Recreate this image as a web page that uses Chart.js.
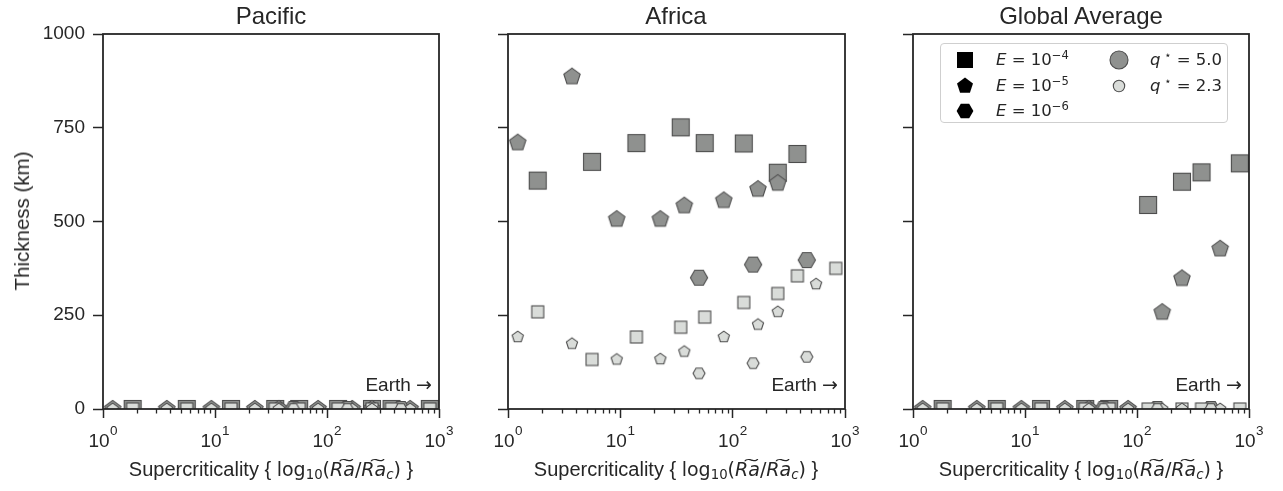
<!DOCTYPE html>
<html><head><meta charset="utf-8">
<script src="https://cdn.jsdelivr.net/npm/chart.js@4.4.1/dist/chart.umd.min.js"></script>
<style>
body{margin:0;background:#fff;width:1283px;height:491px;overflow:hidden;position:relative;font-family:"Liberation Sans",Arial,sans-serif;color:#262626}
canvas.plot{position:absolute;left:0;top:0}
.ptitle{position:absolute;top:0;height:32px;line-height:32px;font-size:24px;white-space:nowrap;transform:translateX(-50%)}
.xtitle{position:absolute;top:456px;height:26px;line-height:26px;font-size:20px;white-space:nowrap;transform:translateX(-50%)}
.xtitle .m{font-family:"DejaVu Sans",sans-serif;font-size:19px}
.xtitle sub{font-size:0.7em;vertical-align:-0.25em;line-height:0}
.ytitle{position:absolute;left:22px;top:221px;font-size:20.5px;white-space:nowrap;transform:translate(-50%,-50%) rotate(-90deg)}
#legend{position:absolute;left:940px;top:43px;width:286px;height:78px;border:1px solid #cfcfcf;border-radius:4px;background:rgba(255,255,255,0.85);font-family:"DejaVu Sans",sans-serif;font-size:16.5px;color:#262626}
#legend .mk{position:absolute;transform:translate(-50%,-50%)}
#legend .tx{position:absolute;height:24px;line-height:24px;transform:translateY(-50%);white-space:nowrap}
#legend .sp{font-size:0.7em;position:relative;top:-0.5em}
</style></head><body>
<canvas class="plot" id="c0" width="1283" height="491"></canvas>
<canvas class="plot" id="c1" width="1283" height="491"></canvas>
<canvas class="plot" id="c2" width="1283" height="491"></canvas>
<div class="ptitle" style="left:271px">Pacific</div>
<div class="ptitle" style="left:676px">Africa</div>
<div class="ptitle" style="left:1081px">Global Average</div>
<div class="ytitle">Thickness (km)</div>
<div class="xtitle" style="left:271px">Supercriticality { <span class="m">log<sub>10</sub>(<i>R&#x360;a</i>/<i>R&#x360;a</i><sub><i>c</i></sub>)</span> }</div>
<div class="xtitle" style="left:676px">Supercriticality { <span class="m">log<sub>10</sub>(<i>R&#x360;a</i>/<i>R&#x360;a</i><sub><i>c</i></sub>)</span> }</div>
<div class="xtitle" style="left:1081px">Supercriticality { <span class="m">log<sub>10</sub>(<i>R&#x360;a</i>/<i>R&#x360;a</i><sub><i>c</i></sub>)</span> }</div>
<div id="legend"></div>
<script>
// ---- data ----
const regions = ['Pacific', 'Africa', 'Global Average'];
const xSquare   = [1.84, 5.6, 13.9, 34.5, 56.4, 125.6, 252, 377, 828];   // E = 1e-4
const xPentagon = [1.22, 3.71, 9.29, 22.7, 37.1, 83.3, 168, 252, 553];  // E = 1e-5
const xHexagon  = [50.2, 152, 457];                                     // E = 1e-6

// Pacific thickness (km)
const pacSquareQ5  = [0, 0, 0, 0, 0, 0, 0, 0, 0];
const pacSquareQ23 = [0, 0, 0, 0, 0, 0, 0, 0, 0];
const pacPentQ5    = [0, 0, 0, 0, 0, 0, 0, 0, 0];
const pacPentQ23   = [0, 0, 0, 0, 0, 0, 0, 0, 0];
const pacHexQ5     = [0, 0, 0];
const pacHexQ23    = [0, 0, 0];
// Africa thickness (km)
const afrSquareQ5  = [609, 659, 709, 751, 709, 708, 630, 680, null];
const afrSquareQ23 = [259, 132, 192, 218, 245, 284, 308, 355, 375];
const afrPentQ5    = [710, 886, 506, 506, 542, 556, 586, 602, null];
const afrPentQ23   = [192, 174, 132, 133, 153, 192, 225, 259, 333];
const afrHexQ5     = [350, 385, 397];
const afrHexQ23    = [95, 122, 139];
// Global average thickness (km)
const gloSquareQ5  = [0, 0, 0, 0, 0, 544, 606, 631, 655];
const gloSquareQ23 = [0, 0, 0, 0, 0, 0, 0, 0, 0];
const gloPentQ5    = [0, 0, 0, 0, 0, 0, 258, 348, 427];
const gloPentQ23   = [0, 0, 0, 0, 0, 0, 0, 0, 0];
const gloHexQ5     = [0, 0, 0];
const gloHexQ23    = [0, 0, 0];

const yTicks = [0, 250, 500, 750, 1000];
const xMajor = [1, 10, 100, 1000];
const xTickBase = ['10', '10', '10', '10'];
const xTickExp = ['0', '1', '2', '3'];
const annotationWord = 'Earth';
const annotationArrow = '\u2192';

// ---- styles ----
const INK = '#262626';
const FONT = '"Liberation Sans", Arial, sans-serif';
const darkFill = '#8f918f', lightFill = '#d9dcd9', edge = '#4d4d4d';

function polyMarker(n, r, rot, fill, stroke, lw) {
  const s = 2 * Math.ceil(r + lw + 1);
  const c = document.createElement('canvas'); c.width = s; c.height = s;
  const g = c.getContext('2d');
  g.beginPath();
  for (let k = 0; k < n; k++) {
    const a = rot + k * 2 * Math.PI / n;
    const px = s / 2 + r * Math.cos(a), py = s / 2 + r * Math.sin(a);
    if (k) g.lineTo(px, py); else g.moveTo(px, py);
  }
  g.closePath(); g.fillStyle = fill; g.fill();
  if (lw > 0) { g.lineWidth = lw; g.strokeStyle = stroke; g.stroke(); }
  return c;
}
function squareMarker(side, fill, stroke, lw) {
  const s = 2 * Math.ceil(side / 2 + lw + 1);
  const c = document.createElement('canvas'); c.width = s; c.height = s;
  const g = c.getContext('2d');
  g.fillStyle = fill; g.fillRect(s / 2 - side / 2, s / 2 - side / 2, side, side);
  if (lw > 0) { g.lineWidth = lw; g.strokeStyle = stroke; g.strokeRect(s / 2 - side / 2, s / 2 - side / 2, side, side); }
  return c;
}
function circleMarker(r, fill, stroke, lw) {
  const s = 2 * Math.ceil(r + lw + 1);
  const c = document.createElement('canvas'); c.width = s; c.height = s;
  const g = c.getContext('2d');
  g.beginPath(); g.arc(s / 2, s / 2, r, 0, Math.PI * 2);
  g.fillStyle = fill; g.fill(); g.lineWidth = lw; g.strokeStyle = stroke; g.stroke();
  return c;
}

const mk = {
  sqQ5: squareMarker(17, darkFill, edge, 1.1),
  sqQ23: squareMarker(12, lightFill, edge, 1.1),
  peQ5: polyMarker(5, 8.6, -Math.PI / 2, darkFill, edge, 1.1),
  peQ23: polyMarker(5, 5.9, -Math.PI / 2, lightFill, edge, 1.1),
  hxQ5: polyMarker(6, 8.6, 0, darkFill, edge, 1.1),
  hxQ23: polyMarker(6, 6.0, 0, lightFill, edge, 1.1)
};

const isMajor = v => Math.abs(Math.log10(v) - Math.round(Math.log10(v))) < 1e-9;
const xTickValues = [1, 10, 100].flatMap(d => [1, 2, 3, 4, 5, 6, 7, 8, 9].map(m => m * d)).concat([1000]);

const pts = (xs, ys) => xs.map((x, i) => ({ x: x, y: ys[i] })).filter(p => p.y !== null);

const regionData = [
  [pacSquareQ5, pacPentQ5, pacHexQ5, pacSquareQ23, pacPentQ23, pacHexQ23],
  [afrSquareQ5, afrPentQ5, afrHexQ5, afrSquareQ23, afrPentQ23, afrHexQ23],
  [gloSquareQ5, gloPentQ5, gloHexQ5, gloSquareQ23, gloPentQ23, gloHexQ23]
];
const seriesX = [xSquare, xPentagon, xHexagon, xSquare, xPentagon, xHexagon];
const seriesMk = [mk.sqQ5, mk.peQ5, mk.hxQ5, mk.sqQ23, mk.peQ23, mk.hxQ23];
const seriesNames = ['E=1e-4, q*=5.0', 'E=1e-5, q*=5.0', 'E=1e-6, q*=5.0', 'E=1e-4, q*=2.3', 'E=1e-5, q*=2.3', 'E=1e-6, q*=2.3'];

const framePlugin = {
  id: 'frame',
  afterDatasetsDraw(chart) {
    const { ctx, chartArea: a } = chart;
    ctx.save();
    ctx.strokeStyle = INK; ctx.lineWidth = 1.8;
    ctx.strokeRect(a.left, a.top, a.right - a.left, a.bottom - a.top);
    const xs = chart.scales.x;
    // minor ticks (shorter)
    ctx.lineWidth = 1.3;
    xs.ticks.forEach(t => {
      if (!isMajor(t.value)) {
        const px = Math.round(xs.getPixelForValue(t.value)) + 0.5;
        ctx.beginPath(); ctx.moveTo(px, a.bottom); ctx.lineTo(px, a.bottom + 4.5); ctx.stroke();
      }
    });
    // major tick labels 10^n
    ctx.fillStyle = INK; ctx.textAlign = 'left'; ctx.textBaseline = 'alphabetic';
    xMajor.forEach((v, i) => {
      const px = xs.getPixelForValue(v);
      ctx.font = '19px ' + FONT; const wb = ctx.measureText(xTickBase[i]).width;
      ctx.font = '13.5px ' + FONT; const we = ctx.measureText(xTickExp[i]).width;
      const x0 = px - (wb + we + 0.5) / 2;
      ctx.font = '19px ' + FONT; ctx.fillText(xTickBase[i], x0, a.bottom + 37.5);
      ctx.font = '13.5px ' + FONT; ctx.fillText(xTickExp[i], x0 + wb + 0.5, a.bottom + 26);
    });
    // "Earth ->" annotation
    ctx.font = '19px ' + FONT; const ww = ctx.measureText(annotationWord + ' ').width;
    ctx.font = '19px "DejaVu Sans", sans-serif'; const wa = ctx.measureText(annotationArrow).width;
    const xr = a.right - 7, yb = a.bottom - 18;
    ctx.font = '19px ' + FONT; ctx.fillText(annotationWord, xr - wa - ww, yb);
    ctx.font = '19px "DejaVu Sans", sans-serif'; ctx.fillText(annotationArrow, xr - wa, yb);
    ctx.restore();
  }
};

// panel geometry (plot-area edges)
const panels = [
  { left: 103, right: 439, yw: 100, labels: true },
  { left: 508, right: 845, yw: 12, labels: false },
  { left: 913, right: 1249, yw: 12, labels: false }
];
const W = 1283, H = 491, TOP = 34, XH = 40, BOTTOM = 409;

panels.forEach((p, pi) => {
  const data = regionData[pi];
  const datasets = data.map((ys, si) => ({
    label: regions[pi] + ' ' + seriesNames[si],
    data: pts(seriesX[si], ys),
    pointStyle: seriesMk[si],
    pointRadius: 9,
    order: data.length - si
  }));
  new Chart(document.getElementById('c' + pi), {
    type: 'scatter',
    data: { datasets },
    plugins: [framePlugin],
    options: {
      responsive: false, animation: false, events: [],
      layout: { autoPadding: false, padding: { left: p.left - p.yw, right: W - p.right, top: TOP, bottom: H - BOTTOM - XH } },
      plugins: { legend: { display: false }, tooltip: { enabled: false }, title: { display: false } },
      scales: {
        x: {
          type: 'logarithmic', min: 1, max: 1000,
          afterFit: s => { s.height = XH; },
          afterBuildTicks: s => { s.ticks = xTickValues.map(v => ({ value: v, major: isMajor(v) })); },
          border: { display: false },
          grid: { display: true, drawOnChartArea: false, drawTicks: true, tickLength: 9, tickWidth: 1.5,
                  tickColor: c => (c.tick && isMajor(c.tick.value)) ? INK : 'rgba(0,0,0,0)' },
          ticks: { display: false, autoSkip: false, maxRotation: 0 }
        },
        y: {
          min: 0, max: 1000,
          afterFit: s => { s.width = p.yw; },
          afterBuildTicks: s => { s.ticks = yTicks.map(v => ({ value: v })); },
          border: { display: false },
          grid: { display: true, drawOnChartArea: false, drawTicks: true, tickLength: 10, tickWidth: 1.5, tickColor: INK },
          ticks: { display: p.labels, padding: 8, color: INK,
                   font: { family: FONT, size: 19 },
                   callback: v => String(v) }
        }
      }
    }
  });
});

// ---- legend (HTML) ----
const legendItems = [
  { m: squareMarker(16, '#000', '#000', 0), html: '<i>E</i> = 10<span class="sp">\u22124</span>', x: 24, y: 16 },
  { m: polyMarker(5, 8.4, -Math.PI / 2, '#000', '#000', 0), html: '<i>E</i> = 10<span class="sp">\u22125</span>', x: 24, y: 42 },
  { m: polyMarker(6, 8.4, 0, '#000', '#000', 0), html: '<i>E</i> = 10<span class="sp">\u22126</span>', x: 24, y: 67 },
  { m: circleMarker(9, darkFill, edge, 1.1), html: '<i>q</i><span class="sp"> \u22c6</span> = 5.0', x: 178, y: 16 },
  { m: circleMarker(5.7, lightFill, edge, 1.1), html: '<i>q</i><span class="sp"> \u22c6</span> = 2.3', x: 178, y: 42 }
];
const lg = document.getElementById('legend');
legendItems.forEach(it => {
  it.m.className = 'mk'; it.m.style.left = it.x + 'px'; it.m.style.top = it.y + 'px';
  lg.appendChild(it.m);
  const t = document.createElement('span'); t.className = 'tx';
  t.style.left = (it.x + 31) + 'px'; t.style.top = it.y + 'px'; t.innerHTML = it.html;
  lg.appendChild(t);
});
</script>
</body></html>
